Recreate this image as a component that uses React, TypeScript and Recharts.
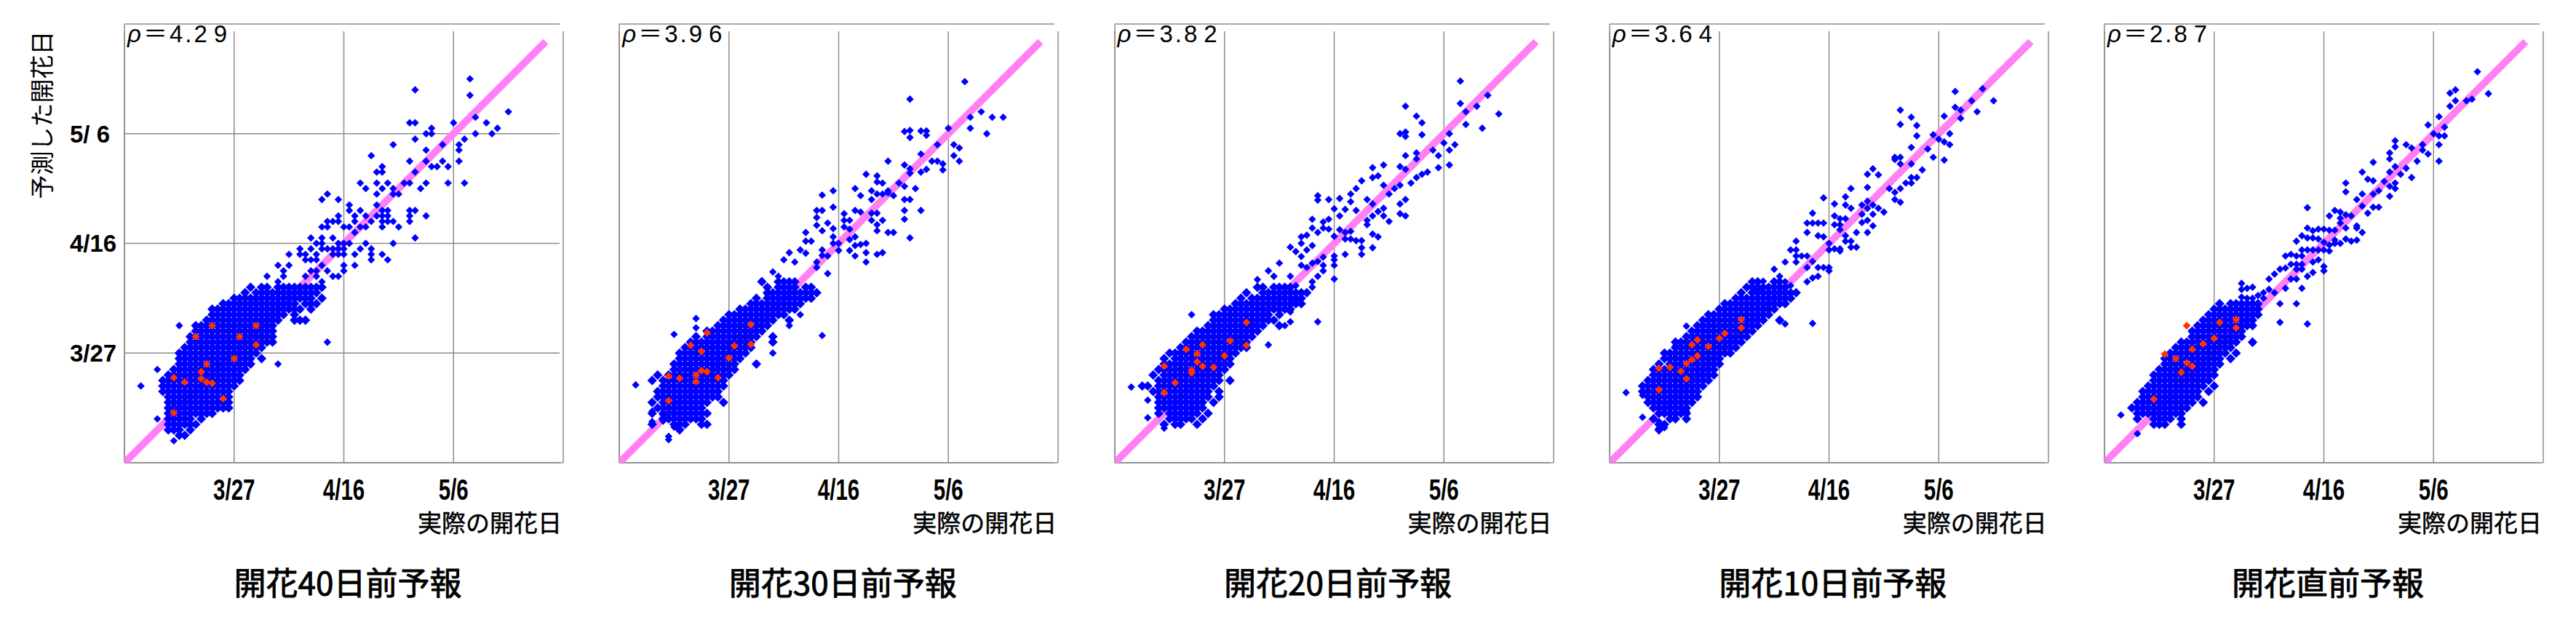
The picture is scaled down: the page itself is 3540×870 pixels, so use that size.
import React from 'react';
import { ScatterChart, Scatter, XAxis, YAxis, CartesianGrid } from 'recharts';

type Pt = [number, number];
type Row = [number, number[]];

// Day numbers are counted from 3/7 (day 0); 3/27 = 20, 4/16 = 40, 5/6 = 60.
const tickDays = [20, 40, 60];
const xTickLabels = ['3/27', '4/16', '5/6'];
const yTickLabels = ['3/27', '4/16', '5/ 6'];
const diagonalEnds = [-1, 76.8];

const panelTitles = ['開花40日前予報', '開花30日前予報', '開花20日前予報', '開花10日前予報', '開花直前予報'];
const rhoValues = ['4.29', '3.96', '3.82', '3.64', '2.87'];

// ---------- 40 days ----------
const p40Outliers: Pt[] = [
  [53,68],[63,70],[63,67],[70,64],[52,62],[53,62],[60,62],[64,63],[66,62],[68,61],[67,60],[64,60],[62,59],[61,58],[61,57],[61,55],
  [56,61],[56,60],[55,60],[53,59],[49,58],[58,58],[55,57],[45,56],[52,55],[53,53],[55,55],[56,54],[57,54],[58,55],[59,54],[47,54],
  [46,53],[47,53],[62,51],[59,51],[55,51],[54,50],[51,51],[52,51],[48,51],[46,51],[47,50],[43,51],[44,50],[49,50],[49,49],[50,49],
  [46,49],[37,49],[36,48],[39,48],[41,47],[41,46],[42,45],[43,46],[46,47],[47,46],[48,46],[46,45],[47,45],[48,45],[52,46],[53,46],
  [52,45],[55,45],[44,45],[39,45],[52,44],[53,41],[49,40],[45,38],
  [37,44],[38,44],[39,44],[40,43],[42,44],[43,43],[44,43],[45,44],[47,44],[47,43],[48,44],[49,44],[50,43],[45,39],[47,38],[48,37],
  [45,37],[42,36],[42,38],[43,39],[44,40],[41,40],[41,43],[42,42],[36,43],[37,43],[36,41],[38,41],[39,40],[40,40],[39,39],[38,39],
  [36,40],[36,39],[37,39],[40,39],[38,38],[39,38],[40,38],[40,36],[40,35],[39,34],[38,34],[36,33],[37,35],[34,41],[35,40],[34,39],
  [35,38],[32,39],[33,38],[32,38],[33,37],[34,37],[35,37],[36,36],[34,35],[35,35],[35,34],[33,34],[30,38],[30,36],[28,36],[29,35],
  [29,34],[28,33],[26,34],[37,22],[28,18],[10,25],[6,17],[3,14],[6,8],[9,4],
];
const p40Band: Row[] = [
  [32,[23,25,26,28,29,30,31,32,33,34,35,36]],
  [31,[22,24,25,26,27,28,29,30,31,32,33,34,35]],
  [30,[20,21,22,23,24,25,26,27,28,29,30,31,32,33,34,36]],
  [29,[18,19,20,21,22,23,24,25,26,27,28,29,30,31,33,34,35]],
  [28,[16,17,18,19,20,21,22,23,24,25,26,27,28,29,30,31,32,34]],
  [27,[16,17,18,19,20,21,22,23,24,25,26,27,28,29,31]],
  [26,[15,16,17,18,19,20,21,22,23,24,25,26,27,28,31,32,33]],
  [25,[13,14,15,16,17,18,19,20,21,22,23,24,25,26,27]],
  [24,[13,14,15,16,17,18,19,20,21,22,23,24,25,26,27]],
  [23,[12,13,14,15,16,17,18,19,20,21,22,23,24,25,26,27]],
  [22,[12,13,14,15,16,17,18,19,20,21,22,23,24,25,26,27]],
  [21,[11,12,13,14,15,16,17,18,19,20,21,22,23,24,25]],
  [20,[10,11,12,13,14,15,16,17,18,19,20,21,22,23,24]],
  [19,[10,11,12,13,14,15,16,17,18,19,20,21,22,23,25]],
  [18,[10,11,12,13,14,15,16,17,18,19,20,21,22,23]],
  [17,[9,10,11,12,13,14,15,16,17,18,19,20,21,22]],
  [16,[8,9,10,11,12,13,14,15,16,17,18,19,20,21]],
  [15,[7,8,9,10,11,12,13,14,15,16,17,18,19,20,21]],
  [14,[7,8,9,10,11,12,13,14,15,16,17,18,19,20]],
  [13,[7,8,9,10,11,12,13,14,15,16,17,18,19]],
  [12,[8,9,10,11,12,13,14,15,16,17,18,19]],
  [11,[8,9,10,11,12,13,14,15,16,17,18,19]],
  [10,[8,9,10,11,12,13,14,15,16,17,18,19]],
  [9,[8,9,10,11,12,13,14,15,16]],
  [8,[8,9,10,11,12,14]],
  [7,[8,9,10,11,12,13]],
  [6,[8,9,10,12]],
  [5,[10,11]],
];
const p40Red: Pt[] = [
  [16,25],[13,23],[21,23],[24,25],[24,21.5],[20,19],[15,18],[14,16.6],[14,15.3],[9,15.5],[11,14.7],[15,14.7],[16,14.5],[18,11.7],[9,9.1],
];

// ---------- 30 days ----------
const p30Outliers: Pt[] = [
  [63,69.5],[53,66.3],[66,64],[64,63],[68,63],[70,63],[64,61],[67,60],[52,60.4],[53,60.6],[53,59.3],[55,60.5],[56,60.5],[56,59.7],
  [60,61],[58,58],[61,58],[62,57.4],[61,56],[62,55],[49,55],[52,54.3],[53,53.6],[53,52.8],[55,56.3],[57,55],[58,55],[59,54.5],
  [59,53.4],[55,53],[56,53.5],[45,52.6],[47,52.3],[48,51],[47,51.2],[49,49.6],[49,49.2],[50,48.7],[51,51],[52,50.4],[54,50],[52,48],
  [52,46],[52,44.4],[53,48],[55,46],[53,41],[43,50],[44,48.7],[46,49.6],[47,49],[46,48],[48,49],[37,48.8],[39,49.6],[36,46],[37,46],
  [39,46.6],[41,45.4],[43,46],[44,45.7],[46,45.5],[47,45.5],[48,44.2],[47,43.4],[46,44.2],[49,42],[50,42],[47,42.3],[36,44.7],
  [36,43.3],[38,43.7],[37,42.3],[39,42.7],[41,44.2],[42,44.2],[41,43],[42,42.6],[34,42],[35,40.4],[34,40.4],[33,38.8],[34,38.2],
  [37,38.8],[37,37.8],[39,41.2],[39,40],[40,40],[40,38.7],[42,40.7],[43,41.2],[44,39.8],[45,40],[42,38.7],[43,37.7],[45,38.3],
  [45,36.6],[43,39.6],[47,38],[48,38.3],[37,23.2],[36,36.6],[36,35.6],[38,37.7],[38,34.5],[31,38.3],[32,36.6],[30,37],[28,34.8],
  [29,34],[26,33.2],[27,31.8],[27,30.7],[31,25],[33,27],[28,20],[3,14.2],[6,15.1],[10,23.4],[14,26.3],[14,24.6],[9,4.8],[9,4.2],
  [6,9.4],[6,7.5],[10,6.5],[11,6.2],[8,7.6],[8,8.7],
];
const p30Band: Row[] = [
  [33,[26,29,30,31,32]],
  [32,[27,29,30,31,32,34,35]],
  [31,[27,28,29,30,31,32,33,34,35,36]],
  [30,[25,27,28,29,30,31,32,33,34,35]],
  [29,[24,25,26,27,28,29,30,31,32,33]],
  [28,[22,23,24,25,26,27,28,29,30,31,32]],
  [27,[20,21,22,23,24,25,26,27,28,29,30]],
  [26,[19,20,21,22,23,24,25,26,27,28,31]],
  [25,[18,19,20,21,22,23,24,25,26,27]],
  [24,[16,17,18,19,20,21,22,23,24,25,26]],
  [23,[14,16,17,18,19,20,21,22,23,24,25,28]],
  [22,[13,14,15,16,17,18,19,20,21,22,23,24,28]],
  [21,[12,13,14,15,16,17,18,19,20,21,22,23,24]],
  [20,[11,12,13,14,15,16,17,18,19,20,21,22,23]],
  [19,[11,12,13,14,15,16,17,18,19,20,21,22]],
  [18,[10,11,12,13,14,15,16,17,18,19,20,21,25]],
  [17,[10,11,12,13,14,15,16,17,18,19,20,21]],
  [16,[7,9,10,11,12,13,14,15,16,17,18,19,20]],
  [15,[6,8,9,10,11,12,13,14,15,16,17,18,19]],
  [14,[8,9,10,11,12,13,14,15,16,17,18,19]],
  [13,[7,8,9,10,11,12,13,14,15,16,17,18]],
  [12,[7,8,9,10,11,12,13,14,15,16,17,18]],
  [11,[6,8,9,10,11,12,13,14,15,16,19]],
  [10,[7,8,9,10,11,12,13,14,15]],
  [9,[6,8,9,10,11,12,13,14,15,16]],
  [8,[8,9,10,11,12,13,14,15]],
  [7,[6,10,11,12,15,16]],
  [6,[11]],
];
const p30Red: Pt[] = [
  [16,23.7],[24,25.2],[13,21.4],[15,20.3],[21,21.3],[24,21.6],[20,19.1],[9,15.8],[11,15.4],[14,16],[15,16.8],[16,16.6],[14,14.8],[18,15.5],[9,11.3],
];

// ---------- 20 days ----------
const p20Outliers: Pt[] = [
  [63,69.6],[53,65],[55,63.2],[56,62],[56,59.8],[52,60],[53,60.3],[53,59.5],[63,65.5],[64,64],[66,65],[68,67],[70,63.6],[64,61.7],
  [67,61],[61,60],[60,58.3],[62,58],[61,57],[58,57],[59,56],[61,54.3],[59,53.8],[53,56],[55,56.5],[55,55.4],[52,54],[53,53.5],
  [49,54.3],[47,53.8],[48,52.3],[47,52],[54,51],[52,50.6],[55,52],[56,52.6],[57,53],[45,51.4],[44,50],[43,49],[49,50.6],[50,49],
  [51,50],[52,47.2],[53,48],[52,45.4],[53,45],[50,44],[46,48],[47,47.2],[48,45.8],[47,45],[46,44.2],[46,43.4],[47,41.7],[48,41.2],
  [47,39.2],[49,45],[49,46.4],[37,48.7],[37,47.9],[39,48],[41,48.2],[43,47.6],[40,46.3],[42,46.2],[44,46],[41,45],[39,44.4],
  [38,43.9],[36,44.4],[36,42.8],[37,42],[38,42.8],[39,42.6],[40,41.3],[41,42.5],[42,42],[43,42.2],[42,40.8],[43,40.8],[44,40.5],
  [45,40.5],[45,39.2],[45,38],[42,38],[40,37.7],[40,37],[40,36],[40,33.5],[37,25.7],[34,41.2],[35,41.5],[34,40],[33,38.5],
  [34,37.6],[35,38.8],[36,39.6],[34,36],[35,35.6],[36,36.4],[37,36.7],[38,37.5],[38,36],[38,35],[37,34],[36,33],[36,32],[32,39.3],
  [30,36.4],[32,34],[33,32.3],[33,31],[33,29.6],[32,27.5],[31,25],[32,25.7],[28,21.5],[28,35],[29,34],[26,33.4],[14,27],[3,13.8],
  [6,14],[6,11.4],[6,8.2],[9,7],[9,6.3],[10,8],[11,8.3],[10,20],
];
const p20Band: Row[] = [
  [32,[26,27,29,30,31,32]],
  [31,[24,27,28,29,30,31,32,33,34,35]],
  [30,[23,25,26,27,28,29,30,31,32,33,34]],
  [29,[22,23,24,25,26,27,28,29,30,31,32,33,34]],
  [28,[20,21,22,23,24,25,26,27,28,29,30,31,32]],
  [27,[18,19,20,21,22,23,24,25,26,27,28,30]],
  [26,[18,19,20,21,22,23,24,25,26,27,28,29]],
  [25,[17,18,19,20,21,22,23,24,25,26,27,30]],
  [24,[15,16,17,18,19,20,21,22,23,24,25,26]],
  [23,[14,15,16,17,18,19,20,21,22,23,24,25]],
  [22,[13,14,15,16,17,18,19,20,21,22,23,24]],
  [21,[12,13,14,15,16,17,18,19,20,21,22,23,24]],
  [20,[10,11,12,13,14,15,16,17,18,19,20,21,22]],
  [19,[9,11,12,13,14,15,16,17,18,19,20,21]],
  [18,[9,10,11,12,13,14,15,16,17,18,19,20,21]],
  [17,[8,9,10,11,12,13,14,15,16,17,18,19,20]],
  [16,[7,9,10,11,12,13,14,15,16,17,18,19]],
  [15,[8,9,10,11,12,13,14,15,16,17,18,19,21]],
  [14,[5,6,8,9,10,11,12,13,14,15,16,17,18]],
  [13,[7,8,9,10,11,12,13,14,15,16,17,19]],
  [12,[8,9,10,11,12,13,14,15,16,17,19]],
  [11,[8,9,10,11,12,13,14,15,16,18]],
  [10,[8,9,10,11,12,13,14,15,16]],
  [9,[8,10,11,12,13,14,15,17]],
  [8,[10,11,12,13,14,16]],
  [7,[9,11,12,15]],
];
const p20Red: Pt[] = [
  [16,21.5],[24,25.6],[13,20.7],[15,19.9],[21,22.2],[24,21.4],[20,19.5],[9,17.6],[11,14.6],[14,16.9],[14,16.4],[15,18.4],[16,17.6],[18,17.4],[9,12.8],
];

// ---------- 10 days ----------
const p10Outliers: Pt[] = [
  [63,67.7],[68,68.2],[70,66],[66,66],[63,64.8],[64,64.3],[64,62.8],[67,64],[53,64.3],[53,61.7],[55,63],[56,61.5],[56,59.6],
  [61,63.2],[59,59.8],[60,59],[61,58.5],[62,60],[62,58],[58,57.2],[59,55.7],[61,55.2],[55,57.5],[55,54.5],[57,53.4],[56,52],
  [55,52],[55,51],[54,51],[52,55.7],[53,55.7],[52,55.3],[53,54.5],[51,50],[52,49.3],[53,50],[52,48],[53,47.5],[48,53.6],[47,52.6],
  [49,52.5],[47,50.2],[44,50],[43,48.5],[46,47],[47,47.7],[48,47],[47,46.4],[49,46.4],[50,45.7],[48,45.3],[46,45.3],[47,44.2],
  [46,43.8],[48,43.2],[47,42],[45,42],[39,48.3],[41,47.2],[43,47],[44,46.4],[41,45],[42,44.5],[43,44.5],[42,43.4],[42,42.5],
  [41,43.4],[43,41.4],[43,40.4],[44,40.4],[45,39.3],[44,39.3],[37,45.5],[36,43.7],[37,43.7],[38,43.7],[39,43.7],[36,42],[38,41.4],
  [39,41.2],[40,40],[41,39],[40,38.8],[42,39],[42,38.6],[34,40.4],[34,38.8],[34,37.7],[34,36.6],[33,38.8],[35,37.7],[36,37.7],
  [36,35.6],[37,36.7],[38,35.6],[39,35.6],[40,35.6],[40,35],[38,34],[37,33.7],[36,33],[37,25.4],[32,36.6],[30,35.3],[31,34],
  [32,33],[33,32.3],[28,33.1],[26,33],[27,31.5],[31,25.8],[32,25.3],[3,12.8],[6,12.3],[6,8.3],[9,7.5],[9,6.3],[10,6.4],[11,8.9],
  [12,8.9],[14,9.4],[14,24.9],[12,21.3],[10,19.9],[11,19.9],
];
const p10Band: Row[] = [
  [33,[26,27,30,31]],
  [32,[25,26,27,28,29,30,31,32]],
  [31,[24,26,27,28,29,30,31,32,33,34]],
  [30,[23,24,25,26,27,28,29,30,31,32,33]],
  [29,[21,22,23,24,25,26,27,28,29,30,31,32]],
  [28,[20,21,22,23,24,25,26,27,28,29,30]],
  [27,[18,19,20,21,22,23,24,25,26,27,28,29]],
  [26,[17,18,19,20,21,22,23,24,25,26,27,28,31]],
  [25,[16,17,18,19,20,21,22,23,24,25,26,27]],
  [24,[15,16,17,18,19,20,21,22,23,24,25,26]],
  [23,[14,15,16,17,18,19,20,21,22,23,24,25]],
  [22,[12,13,14,15,16,17,18,19,20,21,22,23,24]],
  [21,[12,13,14,15,16,17,18,19,20,21,22,23]],
  [20,[10,11,12,13,14,15,16,17,18,19,20,21,22]],
  [19,[10,11,12,13,14,15,16,17,18,19,20]],
  [18,[9,11,12,13,14,15,16,17,18,19,20]],
  [17,[8,9,10,11,12,13,14,15,16,17,18,19]],
  [16,[8,9,10,11,12,13,14,15,16,17,18,19]],
  [15,[7,8,9,10,11,12,13,14,15,16,17,18]],
  [14,[6,7,8,9,10,11,12,13,14,15,16,17]],
  [13,[6,7,8,9,10,11,12,13,14,15,16]],
  [12,[7,8,9,10,11,12,13,14,15,16]],
  [11,[7,8,9,10,11,12,13,14,15]],
  [10,[8,9,10,11,12,13,14]],
  [9,[9,10,11,12,13,14]],
  [8,[8,11,12,14]],
  [7,[9,10]],
  [6,[9]],
];
const p10Red: Pt[] = [
  [16,22.4],[24,26.1],[24,24.6],[21,23.6],[20,22.7],[18,21.2],[15,21.5],[14,18.1],[15,18.8],[16,19.5],[13,16.7],[11,17.4],[9,17.2],[14,15.3],[9,13.3],
];

// ---------- just before ----------
const p0Outliers: Pt[] = [
  [68,71.3],[63,67.4],[64,68],[70,67.3],[63,65],[64,66],[66,66],[67,66.3],[61,63.1],[59,61.6],[62,61.2],[60,60],[61,59.6],
  [62,59.6],[61,58],[61,55],[53,58.7],[53,57.6],[55,58],[56,57.4],[58,58],[58,57],[59,56.3],[57,55],[56,52],[52,56.5],[52,55.4],
  [53,54],[55,53.7],[54,52.6],[52,53],[53,51],[53,50],[52,50.4],[52,48.6],[50,49.6],[49,54.8],[47,53],[48,51.7],[49,51.4],[51,51.3],
  [49,49],[47,49],[47,46.8],[48,45.5],[49,46.6],[50,46.6],[46,48],[44,51],[44,49.4],[37,46.5],[41,45],[42,46],[43,45.7],[43,44.6],
  [44,45.2],[45,45],[46,43.2],[46,42.8],[44,42.8],[43,43.7],[47,42],[46,40.6],[45,40.4],[44,40.8],[43,40],[42,42.4],[41,42.4],
  [42,40.6],[42,40],[37,42.8],[38,42.3],[39,42.6],[40,42.6],[35,40.4],[36,41.4],[37,41],[38,41],[39,40.8],[40,40.2],[41,39.7],
  [41,38.6],[40,38.8],[39,38.8],[38,38.8],[37,38.8],[36,38.8],[35,37.7],[34,38],[33,37.7],[36,37.7],[39,37],[40,35.8],[40,35],
  [38,36.6],[38,34.7],[37,34],[36,36.2],[36,35.3],[35,36.2],[35,35.3],[34,36.2],[35,29],[37,25.3],[32,25.6],[32,29],[31,31],
  [30,33.5],[31,34.4],[32,35.3],[33,35.5],[34,33.5],[35,33.5],[36,31.8],[33,31.8],[30,31.6],[29,31],[29,30],[28,30.5],[27,30],
  [28,28.2],[27,28],[25,32.7],[26,31.8],[27,32],[25,31.6],[25,30.2],[26,30],[26,29],[27,29],[28,29],[27,21.8],[3,8.7],[6,5.3],
];
const p0Band: Row[] = [
  [29,[21,23,24,25,26,27,28]],
  [28,[20,21,22,23,24,25,26,27,28]],
  [27,[19,20,21,22,23,24,25,26,27,28]],
  [26,[18,19,20,21,22,23,24,25,26,27]],
  [25,[17,18,19,20,21,22,23,24,25,26,27]],
  [24,[16,17,18,19,20,21,22,23,24,25]],
  [23,[16,17,18,19,20,21,22,23,24,25]],
  [22,[14,15,16,17,18,19,20,21,22,23,24,27]],
  [21,[13,14,15,16,17,18,19,20,21,22,23]],
  [20,[12,13,14,15,16,17,18,19,20,21,22,24]],
  [19,[11,12,13,14,15,16,17,18,19,20,21,23]],
  [18,[11,12,13,14,15,16,17,18,19,20,21]],
  [17,[10,11,12,13,14,15,16,17,18,19,20]],
  [16,[9,10,11,12,13,14,15,16,17,18,19,20]],
  [15,[9,10,11,12,13,14,15,16,17,18,19]],
  [14,[8,9,10,11,12,13,14,15,16,17,18,20]],
  [13,[7,8,9,10,11,12,13,14,15,16,17,19]],
  [12,[7,8,9,10,11,12,13,14,15,16,17]],
  [11,[6,7,8,9,10,11,12,13,14,15,16,18]],
  [10,[5,6,7,8,9,10,11,12,13,14,15]],
  [9,[6,7,8,9,10,11,12,13,14]],
  [8,[6,9,10,11,12,14]],
  [7,[9,10,11,14]],
];
const p0Red: Pt[] = [
  [15,25],[11,19.8],[13,19],[16,20.7],[18,21.7],[20,22.7],[21,25.6],[24,26.1],[24,24.6],[15,18.2],[16,17.6],[14,16.5],[9,11.6],
];

const panelOutliers = [p40Outliers, p30Outliers, p20Outliers, p10Outliers, p0Outliers];
const panelBands = [p40Band, p30Band, p20Band, p10Band, p0Band];
const panelReds = [p40Red, p30Red, p20Red, p10Red, p0Red];

// ---------- style ----------
const BLUE = '#0000ff';
const RED = '#ff3300';
const PINK = '#ff80f4';
const GRID = '#8c8c8c';
const LATIN = "'Liberation Sans', Arial, sans-serif";
const CJK = "'Noto Sans CJK JP', 'Noto Sans CJK SC', sans-serif";
const PANEL_STEP = 680.25;
const CHART_W = 790;
const CHART_H = 700;
const PLOT_LEFT = 171;
const PLOT_TOP = 33;
const PLOT_W = 603;
const PLOT_H = 603;

const toObjs = (pts: Pt[]) => pts.map(([x, y]) => ({ x, y }));
const bandObjs = (rows: Row[]) => rows.flatMap(([y, xs]) => xs.map((x) => ({ x, y })));

const makeDiamond = (color: string, r: number) => (props: any) => {
  const { cx, cy } = props;
  if (cx == null || cy == null) return <g />;
  return (
    <polygon
      points={`${cx},${cy - r} ${cx + r},${cy} ${cx},${cy + r} ${cx - r},${cy}`}
      fill={color}
    />
  );
};
const BlueDiamond = makeDiamond(BLUE, 5.2);
const BandDiamond = makeDiamond(BLUE, 6.6);
const RedDiamond = makeDiamond(RED, 5.4);
const NoShape = () => <g />;

const XTick = (props: any) => {
  const { x, payload } = props;
  const label = xTickLabels[tickDays.indexOf(payload.value)];
  return (
    <text
      transform={`translate(${x} 687) scale(0.72 1)`}
      x={0}
      y={0}
      textAnchor="middle"
      fontFamily={LATIN}
      fontWeight="bold"
      fontSize={41}
      fill="#000"
    >
      {label}
    </text>
  );
};

const YTick = (props: any) => {
  const { y, payload } = props;
  const label = yTickLabels[tickDays.indexOf(payload.value)];
  return (
    <text x={96} y={y + 11.8} textAnchor="start" fontFamily={LATIN} fontWeight="bold" fontSize={33} fill="#000">
      {label}
    </text>
  );
};

function Panel({ index }: { index: number }) {
  const outliers = toObjs(panelOutliers[index]);
  const band = bandObjs(panelBands[index]);
  const red = toObjs(panelReds[index]);
  const diag = diagonalEnds.map((v) => ({ x: v, y: v }));
  return (
    <div style={{ position: 'absolute', left: PANEL_STEP * index, top: 0, width: CHART_W, height: CHART_H }}>
      <ScatterChart
        width={CHART_W}
        height={CHART_H}
        margin={{ top: PLOT_TOP, right: CHART_W - PLOT_LEFT - PLOT_W, bottom: 0, left: 0 }}
      >
        <CartesianGrid
          stroke={GRID}
          strokeWidth={1.5}
          x={PLOT_LEFT}
          y={PLOT_TOP + 10}
          width={PLOT_W - 5}
          height={PLOT_H - 10}
        />
        <XAxis
          type="number"
          dataKey="x"
          domain={[0, 80]}
          ticks={tickDays}
          allowDataOverflow
          height={CHART_H - PLOT_TOP - PLOT_H}
          axisLine={{ stroke: GRID, strokeWidth: 1.5 }}
          tickLine={false}
          tick={<XTick />}
          interval={0}
        />
        <YAxis
          type="number"
          dataKey="y"
          domain={[0, 80]}
          ticks={tickDays}
          allowDataOverflow
          width={PLOT_LEFT}
          axisLine={{ stroke: GRID, strokeWidth: 1.5 }}
          tickLine={false}
          tick={index === 0 ? <YTick /> : false}
          interval={0}
        />
        <Scatter
          data={diag}
          fill={PINK}
          line={{ stroke: PINK, strokeWidth: 10 }}
          lineType="joint"
          shape={NoShape}
          isAnimationActive={false}
        />
        <Scatter data={band} fill={BLUE} shape={BandDiamond} isAnimationActive={false} />
        <Scatter data={outliers} fill={BLUE} shape={BlueDiamond} isAnimationActive={false} />
        <Scatter data={red} fill={RED} shape={RedDiamond} isAnimationActive={false} />
      </ScatterChart>
    </div>
  );
}

export default function App() {
  return (
    <div style={{ position: 'absolute', left: 0, top: 0, width: 3540, height: 870, background: '#fff', overflow: 'hidden' }}>
      {panelTitles.map((_, i) => (
        <Panel key={i} index={i} />
      ))}
      <svg width={3540} height={870} style={{ position: 'absolute', left: 0, top: 0, pointerEvents: 'none' }}>
        <text
          x={56}
          y={158}
          transform="rotate(-90 56 158)"
          textAnchor="middle"
          dominantBaseline="central"
          fontFamily={CJK}
          fontSize={33}
          fill="#000"
        >
          予測した開花日
        </text>
        {panelTitles.map((title, i) => {
          const ox = PANEL_STEP * i;
          const rho = rhoValues[i];
          return (
            <g key={i}>
              <text x={ox + 175} y={58} fontFamily={`${LATIN}, ${CJK}`} fontSize={33} letterSpacing={3} fill="#000">
                <tspan fontStyle="italic">ρ</tspan>
                <tspan fontFamily={CJK}>＝</tspan>
                <tspan>{rho.slice(0, -1)}</tspan>
                <tspan dx={6}>{rho.slice(-1)}</tspan>
              </text>
              <text x={ox + 772} y={731} textAnchor="end" fontFamily={CJK} fontSize={33} fill="#000" stroke="#000" strokeWidth={0.5}>
                実際の開花日
              </text>
              <text
                x={ox + 478}
                y={818}
                textAnchor="middle"
                fontFamily={CJK}
                fontSize={44}
                fill="#000"
                stroke="#000"
                strokeWidth={0.9}
              >
                {title}
              </text>
            </g>
          );
        })}
      </svg>
    </div>
  );
}
